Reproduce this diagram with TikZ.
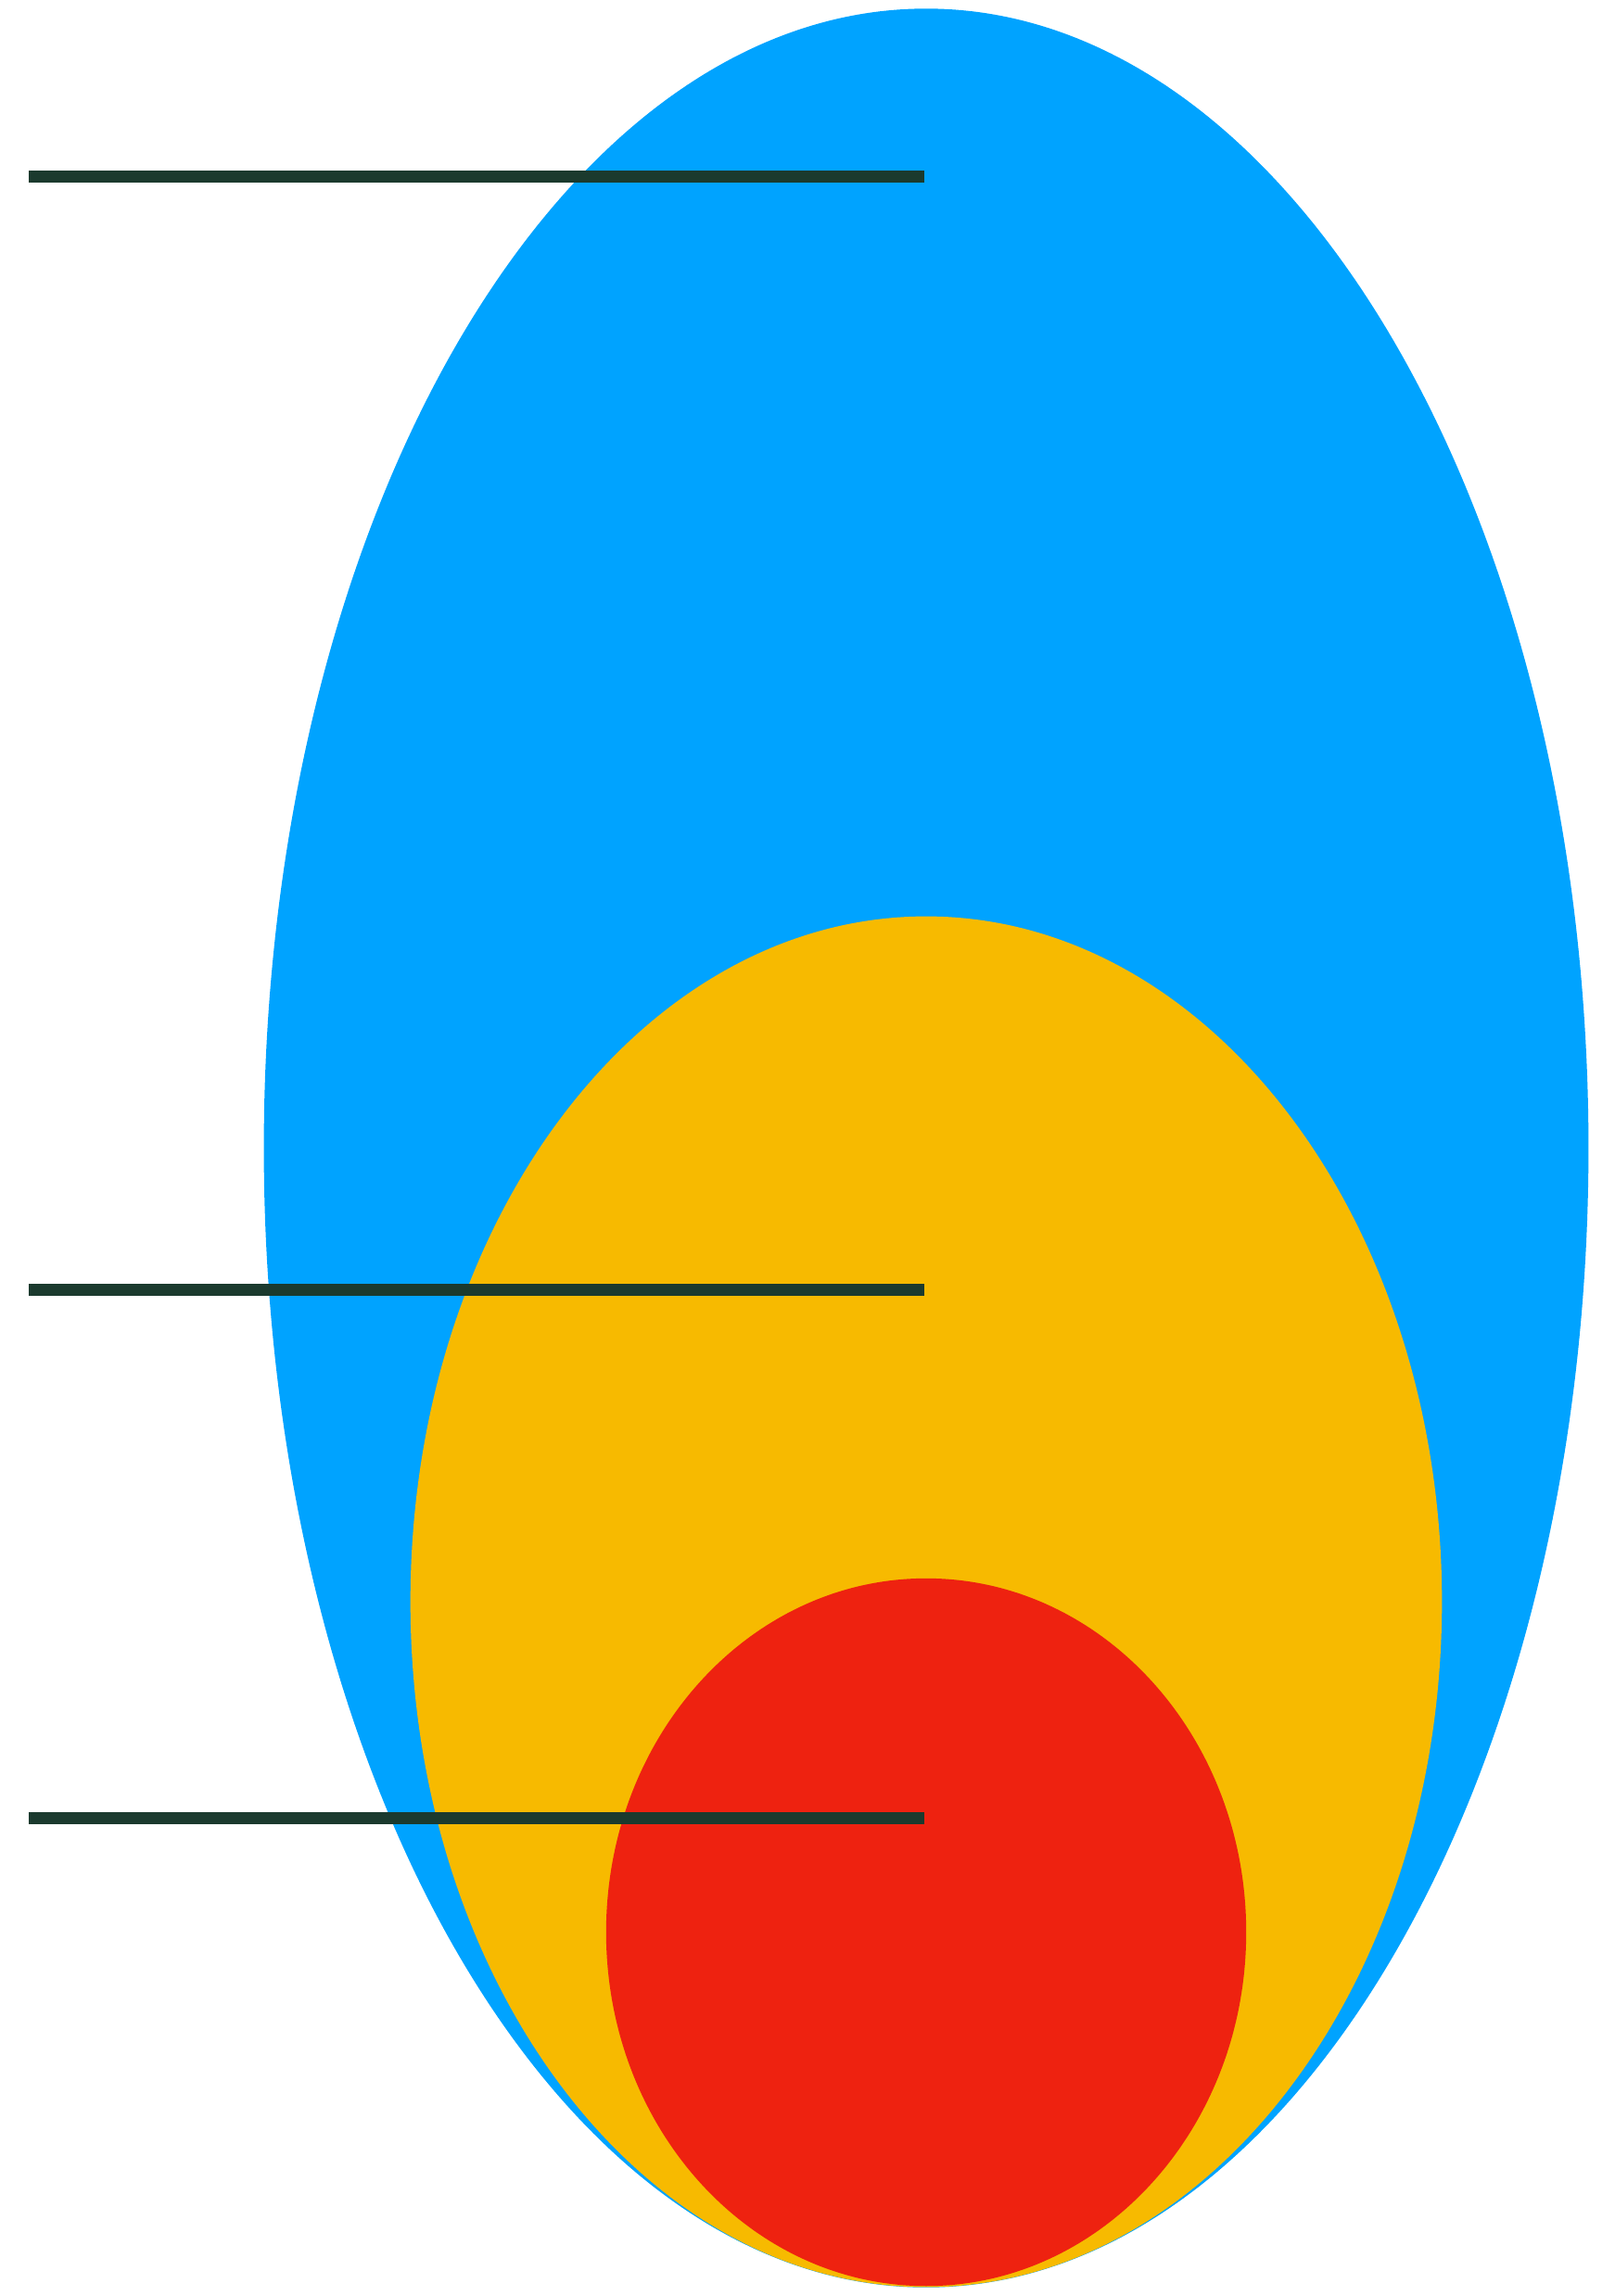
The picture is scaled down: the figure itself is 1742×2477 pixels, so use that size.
\documentclass[tikz,border=0pt]{standalone}
\usetikzlibrary{shapes.geometric}
\definecolor{skyblue}{HTML}{00A3FF}
\definecolor{sunyellow}{HTML}{F7BA00}
\definecolor{firered}{HTML}{EE2210}
\definecolor{darkgreen}{HTML}{1B3A2E}
\begin{document}
\begin{tikzpicture}[
    x=0.01cm, y=-0.01cm,
    blob/.style={ellipse, draw=none, fill=#1, inner sep=0pt},
    marker/.style={line width=0.13cm, color=darkgreen}
]
    % Rahmen
    \useasboundingbox (0,0) rectangle (1742,2477);

    % Ellipsen
    \node[blob=skyblue, minimum width=14.28cm, minimum height=24.57cm] (outer) at (999,1238.5) {};
    \node[blob=sunyellow, minimum width=11.12cm, minimum height=14.78cm] (middle) at (999,1728) {};
    \node[blob=firered, minimum width=6.9cm, minimum height=7.63cm] (inner) at (999,2084.5) {};

    % Linien
    \coordinate (top start) at (31,190.5);
    \coordinate (top end) at (997,190.5);
    \coordinate (mid start) at (31,1391);
    \coordinate (mid end) at (997,1391);
    \coordinate (low start) at (31,1961);
    \coordinate (low end) at (997,1961);
    \draw[marker] (top start) -- (top end);
    \draw[marker] (mid start) -- (mid end);
    \draw[marker] (low start) -- (low end);

\end{tikzpicture}
\end{document}
